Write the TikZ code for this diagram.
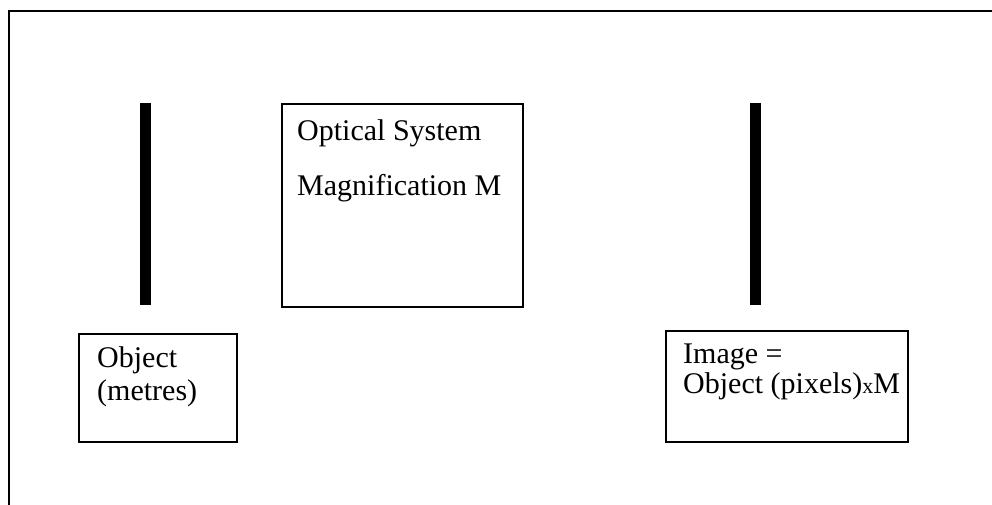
\documentclass[tikz,border=0pt]{standalone}
\usepackage{fontspec}
\setmainfont{Liberation Serif}
\usetikzlibrary{positioning,calc}

\begin{document}
\begin{tikzpicture}[x=1pt, y=-1pt,
  box/.style={draw, line width=1.6pt, anchor=north west, inner sep=0pt},
  lbl/.style={font=\fontsize{30}{34}\selectfont, anchor=base west, inner sep=0pt}]
  \useasboundingbox (0,0) rectangle (992,505);
  % frame
  \draw[line width=1.8pt] (9,505) -- (9,11) -- (992,11);
  % bars
  \fill[black] (140,103) rectangle (151,305);
  \fill[black] (750,103) rectangle (761,305);
  % boxes
  \node[box, minimum width=241pt, minimum height=203pt] (optic) at (281,103) {};
  \node[box, minimum width=158pt, minimum height=108pt] (obj) at (78,333) {};
  \node[box, minimum width=242pt, minimum height=111pt] (img) at (665,330) {};
  % texts
  \node[lbl] (opticA) at ($(optic.north west)+(16,38)$) {Optical System};
  \node[lbl] (opticB) at ($(optic.north west)+(16,92)$) {Magnification M};
  \node[lbl] (objA) at ($(obj.north west)+(19,34)$) {Object};
  \node[lbl] (objB) at ($(obj.north west)+(19,67)$) {(metres)};
  \node[lbl] (imgA) at ($(img.north west)+(18,33)$) {Image =};
  \node[lbl] (imgB) at ($(img.north west)+(18,63)$) {Object (pixels){\fontsize{22}{26}\selectfont x}M};
\end{tikzpicture}
\end{document}
